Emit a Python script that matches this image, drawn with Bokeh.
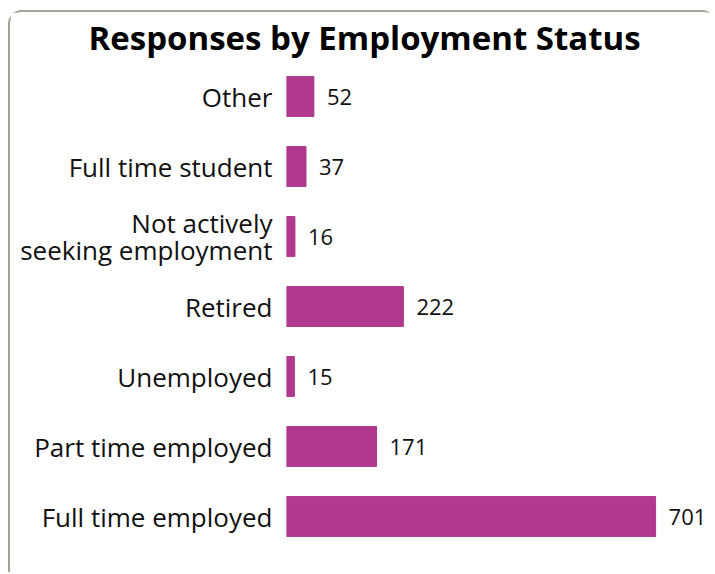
from bokeh.plotting import figure
from bokeh.models import Range1d, FactorRange
from bokeh.core.properties import value
from bokeh.embed import file_html
from bokeh.resources import INLINE

categories = ["Full time employed", "Part time employed", "Unemployed", "Retired",
              "Not actively\nseeking employment", "Full time student", "Other"]
counts = [701, 171, 15, 222, 16, 37, 52]
labels = [str(c) for c in counts]

FONT = "Open Sans"

p = figure(width=705, height=562, output_backend="svg", toolbar_location=None,
           y_range=FactorRange(*categories, range_padding=0),
           x_range=Range1d(0, 811),
           title="Responses by Employment Status",
           min_border_left=276, min_border_right=2, min_border_top=49, min_border_bottom=23)

p.styles = {"margin-left": "8px", "margin-top": "10px",
            "border-top": "2px solid #a3a296", "border-left": "2px solid #a3a296",
            "border-top-left-radius": "14px", "border-top-right-radius": "10px"}

p.hbar(y=categories, right=counts, left=0, height=0.57, color="#b0398d")
p.text(x=counts, y=categories, text=labels, x_offset=13, text_baseline="middle",
       text_align="left", text_font=value(FONT), text_font_size="22px", text_color="#111111")

p.title.text_font = FONT
p.title.text_font_size = "33px"
p.title.text_font_style = "bold"
p.title.text_color = "#000000"
p.title.align = "left"
p.title.offset = -198
p.title.standoff = 0
p.title.vertical_align = "top"

p.xaxis.visible = False
p.yaxis.axis_line_color = None
p.yaxis.major_tick_line_color = None
p.yaxis.minor_tick_line_color = None
p.yaxis.major_label_text_font = FONT
p.yaxis.major_label_text_font_size = "26px"
p.yaxis.major_label_text_color = "#111111"
p.yaxis.major_label_text_line_height = 0.77
p.yaxis.major_label_standoff = 8
p.xgrid.visible = False
p.ygrid.visible = False
p.outline_line_color = None

open("out.html", "w").write(file_html(p, INLINE))
